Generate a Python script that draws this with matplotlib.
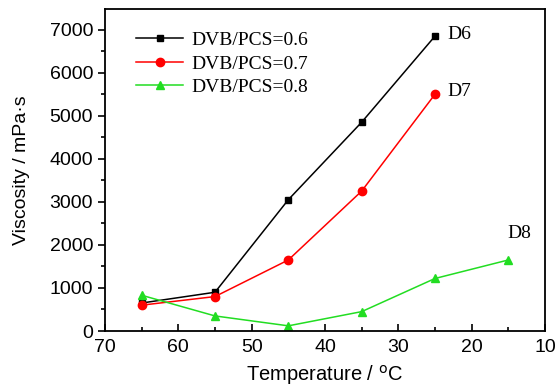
import matplotlib
matplotlib.use('Agg')
import matplotlib.pyplot as plt
from matplotlib.ticker import MultipleLocator

# data
temp = [65, 55, 45, 35, 25]
temp_d8 = [65, 55, 45, 35, 25, 15]
visc_d6 = [650, 900, 3050, 4850, 6850]
visc_d7 = [600, 800, 1650, 3250, 5500]
visc_d8 = [830, 350, 120, 450, 1220, 1650]
labels = ['DVB/PCS=0.6', 'DVB/PCS=0.7', 'DVB/PCS=0.8']

sans = 'Liberation Sans'
serif = 'Liberation Serif'

fig = plt.figure(figsize=(5.55, 3.9), dpi=100)
ax = fig.add_axes([105 / 555, 1 - 331 / 390, 440 / 555, 322 / 390])

ax.plot(temp, visc_d6, color='black', marker='s', ms=5, lw=1.1, label=labels[0])
ax.plot(temp, visc_d7, color='red', marker='o', ms=6, lw=1.1, label=labels[1])
ax.plot(temp_d8, visc_d8, color='#22dd22', marker='^', ms=6, lw=1.1, label=labels[2])

ax.annotate('D6', (temp[-1], visc_d6[-1]), xytext=(9, 1), textcoords='offset points',
            fontsize=14, family=serif, va='center', ha='left')
ax.annotate('D7', (temp[-1], visc_d7[-1]), xytext=(9, 2), textcoords='offset points',
            fontsize=14, family=serif, va='center', ha='left')
ax.annotate('D8', (temp_d8[-1], visc_d8[-1]), xytext=(8, 19), textcoords='offset points',
            fontsize=14, family=serif, va='center', ha='center')

ax.set_xlim(70, 10)
ax.set_ylim(0, 7480)
ax.xaxis.set_major_locator(MultipleLocator(10))
ax.xaxis.set_minor_locator(MultipleLocator(5))
ax.yaxis.set_major_locator(MultipleLocator(1000))
ax.yaxis.set_minor_locator(MultipleLocator(500))
ax.tick_params(axis='x', which='both', direction='in', labelsize=14, pad=6)
ax.tick_params(axis='y', which='both', direction='out', labelsize=14)
ax.tick_params(which='major', length=5, width=1.2)
ax.tick_params(which='minor', length=3, width=1.2)
for lab in ax.get_xticklabels() + ax.get_yticklabels():
    lab.set_family(sans)
for s in ax.spines.values():
    s.set_linewidth(1.3)

ax.set_xlabel('Temperature / $^{\\rm o}$C', fontsize=14.5, family=sans, labelpad=5)
ax.set_ylabel('Viscosity / mPa·s', fontsize=14, family=sans, labelpad=14)

leg = ax.legend(loc='upper left', frameon=False, prop={'family': serif, 'size': 14},
                handlelength=2.4, handletextpad=0.4, borderaxespad=0.2,
                labelspacing=0.3, bbox_to_anchor=(0.045, 0.966))

fig.savefig('out.png', dpi=100)
